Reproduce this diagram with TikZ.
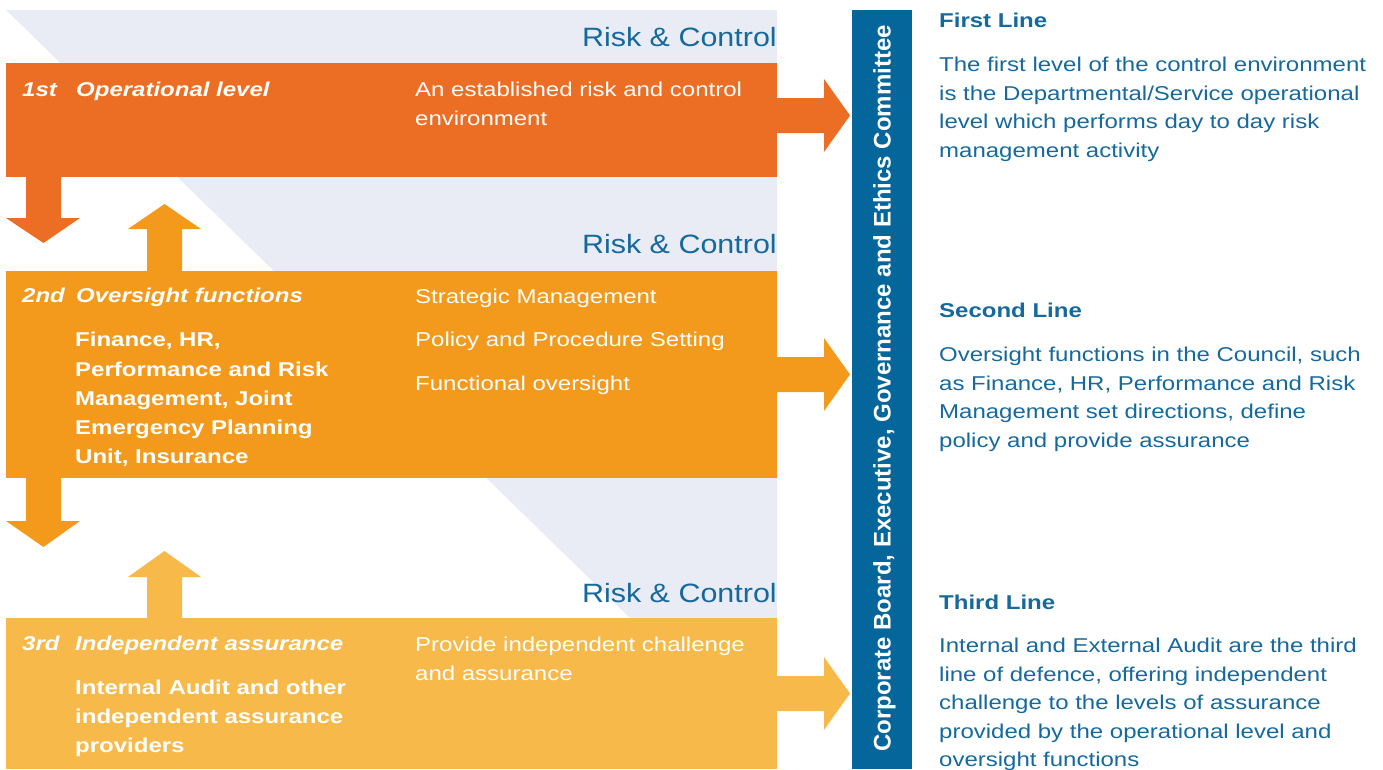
\documentclass[tikz,border=0pt]{standalone}
\usepackage{fontspec}
\setmainfont{Liberation Sans}[FakeStretch=1.2]
\newfontfamily\riskfont{Liberation Sans}[FakeStretch=1.15]
\newfontfamily\barfont{Liberation Sans}

\definecolor{bgpanel}{HTML}{E9ECF4}
\definecolor{lineone}{HTML}{EC6E25}
\definecolor{linetwo}{HTML}{F39A1C}
\definecolor{linethree}{HTML}{F8B94B}
\definecolor{boardblue}{HTML}{04669A}
\definecolor{textblue}{HTML}{16699D}

% multi-line nodes are placed by the baseline of their last line
\tikzset{
  band/.style={fill=#1, inner sep=0pt, minimum width=771pt, anchor=north west},
  lbl/.style={inner sep=0pt, anchor=base west, align=left, text=white,
    font=\fontsize{20}{29}\selectfont},
  lvl/.style={lbl, font=\fontsize{20}{29}\selectfont\bfseries\itshape},
  who/.style={lbl, font=\fontsize{20}{29.3}\selectfont\bfseries},
  riskctl/.style={inner sep=0pt, anchor=base east, text=textblue,
    font=\riskfont\fontsize{26.5}{30}\selectfont},
  linehead/.style={inner sep=0pt, anchor=base west, text=textblue,
    font=\fontsize{20}{24}\selectfont\bfseries},
  linebody/.style={inner sep=0pt, anchor=base west, align=left, text=textblue,
    font=\fontsize{20}{28.5}\selectfont},
}

\begin{document}
\begin{tikzpicture}[x=1pt, y=-1pt]
\useasboundingbox (0,0) rectangle (1383,769);

% pale panel behind the three levels
\fill[bgpanel] (6,10) -- (777,10) -- (777,618) -- (630,618) -- cycle;

% the three levels
\node[band=lineone, minimum height=114pt] (b1) at (6,63) {};
\node[band=linetwo, minimum height=207pt] (b2) at (6,271) {};
\node[band=linethree, minimum height=151pt] (b3) at (6,618) {};

% arrows between the levels
\fill[lineone] (26,177) -- (61,177) -- (61,218) -- (80,218) -- (43.5,243)
  -- (6,218) -- (26,218) -- cycle;
\fill[linetwo] (147,271) -- (147,229) -- (128,229) -- (164.5,204)
  -- (201,229) -- (182,229) -- (182,271) -- cycle;
\fill[linetwo] (26,478) -- (61,478) -- (61,521) -- (80,521) -- (43.5,547)
  -- (6,521) -- (26,521) -- cycle;
\fill[linethree] (147,618) -- (147,577) -- (128,577) -- (164.5,551)
  -- (201,577) -- (182,577) -- (182,618) -- cycle;

% arrows into the board
\fill[lineone] (777,98) -- (824,98) -- (824,79) -- (850,115.5)
  -- (824,152) -- (824,133) -- (777,133) -- cycle;
\fill[linetwo] (777,357) -- (824,357) -- (824,338) -- (850,374.5)
  -- (824,411) -- (824,392) -- (777,392) -- cycle;
\fill[linethree] (777,676) -- (824,676) -- (824,657) -- (850,693.5)
  -- (824,730) -- (824,711) -- (777,711) -- cycle;

% board column
\node[fill=boardblue, inner sep=0pt, minimum width=60pt, minimum height=759pt,
  anchor=north west] (board) at (852,10) {};
\node[rotate=90, anchor=base, inner sep=0pt, text=white,
  font=\barfont\fontsize{24}{28}\selectfont\bfseries] (boardtxt) at (890.5,388.5)
  {Corporate Board, Executive, Governance and Ethics Committee};

% Risk & Control captions
\node[riskctl] (rc1) at (777,46.5) {Risk \& Control};
\node[riskctl] (rc2) at (777,253.5) {Risk \& Control};
\node[riskctl] (rc3) at (777,602.5) {Risk \& Control};

% first level
\node[lvl] (n1) at (22,96.7) {1st};
\node[lvl] (t1) at (76,96.7) {Operational level};
\node[lbl] (d1) at (415,125.7) {An established risk and control\\environment};

% second level
\node[lvl] (n2) at (22,302) {2nd};
\node[lvl] (t2) at (76,302) {Oversight functions};
\node[who] (w2) at (75,463.9) {Finance, HR,\\Performance and Risk\\Management, Joint\\Emergency Planning\\Unit, Insurance};
\node[lbl, font=\fontsize{20}{43.8}\selectfont] (d2) at (415,390.6)
  {Strategic Management\\Policy and Procedure Setting\\Functional oversight};

% third level
\node[lvl] (n3) at (22,650.7) {3rd};
\node[lvl] (t3) at (75,650.7) {Independent assurance};
\node[who] (w3) at (75,752.6) {Internal Audit and other\\independent assurance\\providers};
\node[lbl] (d3) at (415,680) {Provide independent challenge\\and assurance};

% descriptions of the three lines
\node[linehead] (h1) at (939,27.7) {First Line};
\node[linebody] (p1) at (939,157.2) {The first level of the control environment\\is the Departmental/Service operational\\level which performs day to day risk\\management activity};
\node[linehead] (h2) at (939,317.5) {Second Line};
\node[linebody] (p2) at (939,447) {Oversight functions in the Council, such\\as Finance, HR, Performance and Risk\\Management set directions, define\\policy and provide assurance};
\node[linehead] (h3) at (939,609.3) {Third Line};
\node[linebody] (p3) at (939,766.7) {Internal and External Audit are the third\\line of defence, offering independent\\challenge to the levels of assurance\\provided by the operational level and\\oversight functions};
\end{tikzpicture}
\end{document}
